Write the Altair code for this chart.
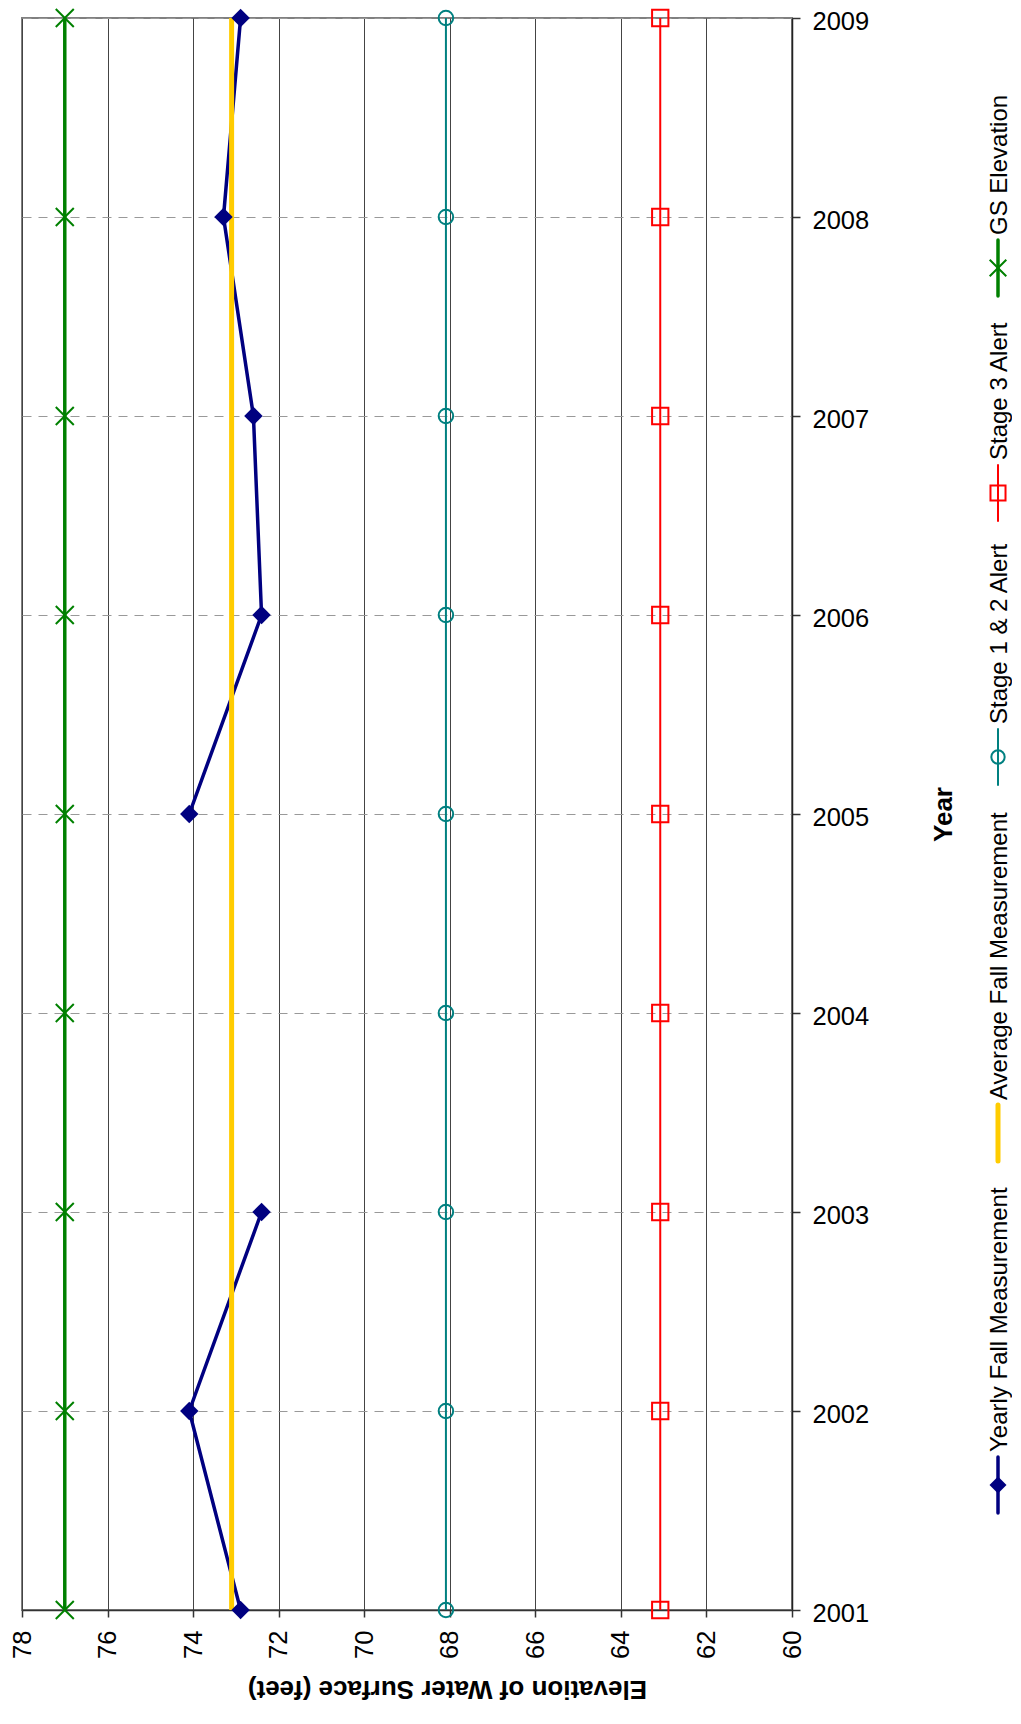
import altair as alt
import pandas as pd

# ---------------- data ----------------
years = [2001, 2002, 2003, 2004, 2005, 2006, 2007, 2008, 2009]
yearly_fall = [72.89, 74.09, 72.40, None, 74.09, 72.40, 72.59, 73.29, 72.89]
average_fall = [73.10, 73.10, 73.10, 73.10, 73.10, 73.10, 73.10, 73.10, 73.10]
stage_1_2_alert = [68.09, 68.09, 68.09, 68.09, 68.09, 68.09, 68.09, 68.09, 68.09]
stage_3_alert = [63.08, 63.08, 63.08, 63.08, 63.08, 63.08, 63.08, 63.08, 63.08]
gs_elevation = [77.0, 77.0, 77.0, 77.0, 77.0, 77.0, 77.0, 77.0, 77.0]
elev_ticks = [60, 62, 64, 66, 68, 70, 72, 74, 76, 78]
series_names = ["Yearly Fall Measurement", "Average Fall Measurement",
                "Stage 1 & 2 Alert", "Stage 3 Alert", "GS Elevation"]
series_values = [yearly_fall, average_fall, stage_1_2_alert, stage_3_alert, gs_elevation]

# ---------------- layout / style ----------------
W, H = 770, 1592
FONT = "Liberation Sans"
X_PATH = "M-1,-1L1,1M1,-1L-1,1"

styles = {
    "Yearly Fall Measurement": dict(color="#000080", width=3.5, shape="diamond", size=340, filled=True),
    "Average Fall Measurement": dict(color="#FFCC00", width=5, shape=None),
    "Stage 1 & 2 Alert": dict(color="#008080", width=2, shape="circle", size=210, filled=False),
    "Stage 3 Alert": dict(color="#FF0000", width=2, shape="square", size=266, filled=False),
    "GS Elevation": dict(color="#008000", width=3.5, shape=X_PATH, size=324, filled=False),
}
# legend symbol centres, in pixels from the plot top (legend reads bottom-to-top)
legend_center_px = [1467, 1115, 739, 475, 250]
LEG_X = 976

x_scale = alt.Scale(domain=[60, 78], reverse=True, nice=False, zero=False)
y_scale = alt.Scale(domain=[2001, 2009], nice=False, zero=False)

x_axis = alt.Axis(
    values=elev_ticks, format="d", labelAngle=270, labelAlign="right", labelBaseline="middle",
    labelFontSize=25.5, labelColor="black", labelPadding=13, labelFlush=False, labelOverlap=False,
    tickSize=7, tickColor="#333333", tickWidth=1.5, domainColor="#333333", domainWidth=1.5,
    grid=True, gridColor="#444444", gridWidth=1,
    titleAngle=180, titleBaseline="bottom", titleFontSize=26, titleFontWeight="bold",
    titleColor="black", titlePadding=17, titleX=425, titleAlign="center",
)
y_axis = alt.Axis(
    orient="right", values=years, format="d", labelFontSize=25.5, labelColor="black",
    labelPadding=12, labelAlign="left", labelBaseline="middle", labelOffset=3,
    labelFlush=False, labelOverlap=False,
    tickSize=8, tickColor="#333333", tickWidth=1.5, domainColor="#222222", domainWidth=1.5,
    grid=True, gridColor="#999999", gridWidth=1, gridDash=[9, 7],
    titleAngle=270, titleBaseline="top", titleFontSize=26, titleFontWeight="bold",
    titleColor="black", titlePadding=62,
)

X_TITLE = "Elevation of Water Surface (feet)"
Y_TITLE = "Year"


def xenc(field):
    return alt.X(f"{field}:Q", scale=x_scale, axis=x_axis, title=X_TITLE)


def yenc(field):
    return alt.Y(f"{field}:Q", scale=y_scale, axis=y_axis, title=Y_TITLE)


def series_df(vals):
    return pd.DataFrame({"year": years, "elev": vals})


def line_layer(name, vals):
    st = styles[name]
    return alt.Chart(series_df(vals)).mark_line(
        color=st["color"], strokeWidth=st["width"], invalid="break-paths-show-domains"
    ).encode(x=xenc("elev"), y=yenc("year"), order=alt.Order("year:Q"))


def point_layer(name, vals):
    st = styles[name]
    kw = dict(shape=st["shape"], size=st["size"], filled=st["filled"], color=st["color"], opacity=1)
    if not st["filled"]:
        kw["strokeWidth"] = 2
    return alt.Chart(series_df(vals)).mark_point(**kw).encode(x=xenc("elev"), y=yenc("year"))


layers = []
vals_by_name = dict(zip(series_names, series_values))
layers.append(line_layer("Yearly Fall Measurement", yearly_fall))
layers.append(line_layer("Average Fall Measurement", average_fall))
for nm in ["Stage 1 & 2 Alert", "Stage 3 Alert", "GS Elevation"]:
    layers.append(line_layer(nm, vals_by_name[nm]))
    layers.append(point_layer(nm, vals_by_name[nm]))
layers.append(point_layer("Yearly Fall Measurement", yearly_fall))


# ---------------- legend (rotated, drawn with marks) ----------------
def px_to_year(px):
    return 2009 - px / H * 8


for nm, c in zip(series_names, legend_center_px):
    st = styles[nm]
    ldf = pd.DataFrame({
        "label": [nm],
        "ly": [px_to_year(c + 28)],
        "ly2": [px_to_year(c - 28)],
        "lc": [px_to_year(c)],
        "lt": [px_to_year(c - 33)],
    })
    base = alt.Chart(ldf)
    layers.append(base.mark_rule(color=st["color"], strokeWidth=st["width"], strokeCap="round").encode(
        x=alt.value(LEG_X), y=yenc("ly"), y2=alt.Y2("ly2:Q")))
    if st["shape"] is not None:
        kw = dict(shape=st["shape"], size=st["size"] * 0.85, filled=st["filled"], color=st["color"], opacity=1)
        if not st["filled"]:
            kw["strokeWidth"] = 2
        layers.append(base.mark_point(**kw).encode(x=alt.value(LEG_X), y=yenc("lc")))
    layers.append(base.mark_text(angle=270, align="left", baseline="middle", fontSize=24,
                                 font=FONT, color="black").encode(
        x=alt.value(LEG_X + 2), y=yenc("lt"), text="label:N"))

chart = alt.layer(*layers).properties(
    width=W, height=H,
    padding={"left": 14, "top": 10, "right": 220, "bottom": 99},
    autosize=alt.AutoSizeParams(type="none"),
).configure(font=FONT).configure_view(stroke="#808080", strokeWidth=2)

chart.save("out.html", embed_options={"renderer": "svg", "actions": False})
